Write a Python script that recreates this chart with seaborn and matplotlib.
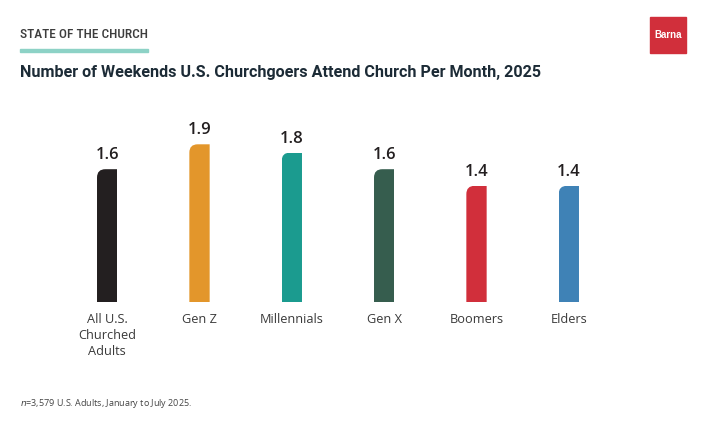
import matplotlib
matplotlib.use("Agg")
import matplotlib.pyplot as plt
import seaborn as sns
import pandas as pd
from matplotlib import font_manager
from matplotlib.path import Path
from matplotlib.patches import PathPatch, Rectangle

# Chart data
groups = ['All U.S.\nChurched\nAdults', 'Gen Z', 'Millennials', 'Gen X', 'Boomers', 'Elders']
weekends = [1.6, 1.9, 1.8, 1.6, 1.4, 1.4]
bar_colors = ['#231f20', '#e3962b', '#1b9b8f', '#365d4e', '#d12f3b', '#3f82b6']

df = pd.DataFrame({'group': groups, 'weekends': weekends})

sns.set_theme(style='white')
plt.rcParams['font.family'] = ['Open Sans', 'DejaVu Sans']

fig = plt.figure(figsize=(7.08, 4.26), dpi=100)
W, H = 708, 426
ax = fig.add_axes([61 / W, 124 / H, 554 / W, 166 / H])

sns.barplot(data=df, x='group', y='weekends', hue='group', palette=bar_colors,
            width=0.22, legend=False, ax=ax, saturation=1)
ax.set_xlim(-0.5, 5.5)
ax.set_ylim(0, 2.0)

# round the top-left corner of each bar
rx, ry = 0.09, 0.1
for bar in ax.patches:
    x0, y0 = bar.get_x(), bar.get_y()
    x1, y1 = x0 + bar.get_width(), y0 + bar.get_height()
    verts = [(x0, y0), (x1, y0), (x1, y1), (x0 + rx, y1),
             (x0, y1), (x0, y1 - ry), (x0, y0)]
    codes = [Path.MOVETO, Path.LINETO, Path.LINETO, Path.LINETO,
             Path.CURVE3, Path.CURVE3, Path.CLOSEPOLY]
    clip = PathPatch(Path(verts, codes), transform=ax.transData)
    bar.set_clip_path(clip)
    bar.set_linewidth(0)
    ax.text(x0 + bar.get_width() / 2, y1 + 0.07, f'{bar.get_height():.1f}',
            ha='center', va='bottom', fontsize=12, fontweight='semibold', color='#231f20')

ax.set_xlabel('')
ax.set_ylabel('')
ax.set_yticks([])
ax.tick_params(axis='x', length=0, pad=8, labelsize=9.2, labelcolor='#3a3a3a')
for lbl in ax.get_xticklabels():
    lbl.set_va('top')
    lbl.set_linespacing(1.3)
sns.despine(ax=ax, left=True, bottom=True)

# header: pick the narrowest family available, then fit it to the underline width
installed = {f.name for f in font_manager.fontManager.ttflist}
head_fam = next((f for f in ['Roboto Condensed', 'Liberation Sans Narrow', 'Roboto']
                 if f in installed), 'DejaVu Sans')
head = fig.text(20 / W, 1 - 34 / H, 'STATE OF THE CHURCH', fontsize=12, color='#3d3d3d',
                va='center', ha='left', family=[head_fam, 'DejaVu Sans'], fontweight='medium')
renderer = fig.canvas.get_renderer()
w = head.get_window_extent(renderer).width
head.set_fontsize(12 * 128 / w)

fig.add_artist(Rectangle((20 / W, 1 - 52 / H), 128 / W, 3 / H, color='#8dd2c6',
                         transform=fig.transFigure))
fig.text(20 / W, 1 - 73 / H, 'Number of Weekends U.S. Churchgoers Attend Church Per Month, 2025',
         fontsize=11.6, fontweight='bold', color='#1c2b36', va='center', ha='left',
         family=['Roboto', 'DejaVu Sans'])

# logo
fig.add_artist(Rectangle((650 / W, 1 - 53 / H), 36 / W, 36 / H, color='#d12f3b',
                         transform=fig.transFigure))
fig.text(668 / W, 1 - 35 / H, 'Barna', fontsize=7, fontweight='bold', color='white',
         ha='center', va='center', family=['Liberation Sans'])

# footnote
fig.text(20 / W, 1 - 404 / H, r'$\it{n}$=3,579 U.S. Adults, January to July 2025.',
         fontsize=6.5, color='#444444', va='center', ha='left')

fig.savefig('out.png', dpi=100, facecolor='white')
